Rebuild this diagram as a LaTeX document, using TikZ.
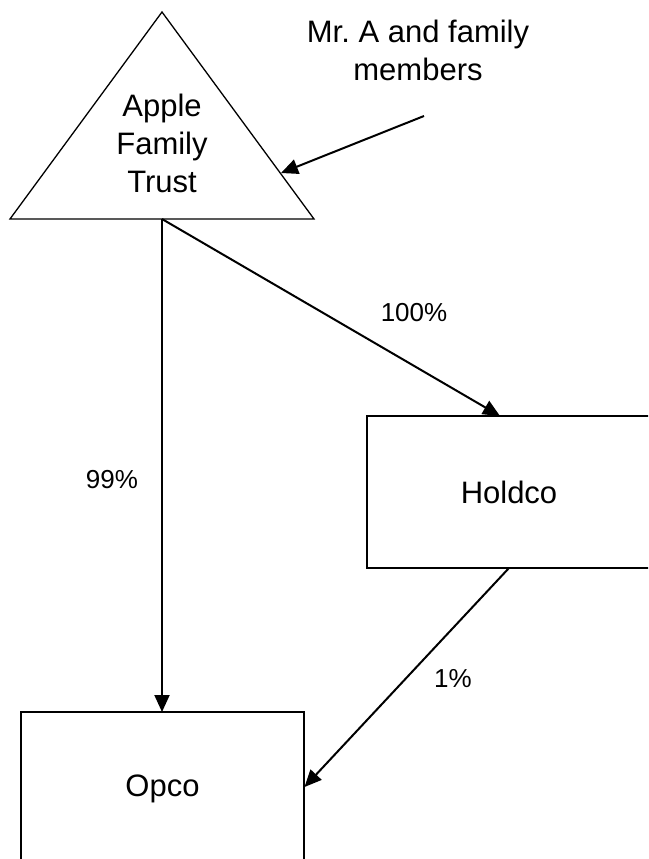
\documentclass[tikz,border=0pt]{standalone}
\usepackage{fontspec}
\setmainfont{Liberation Sans}
\usetikzlibrary{arrows.meta}
\begin{document}
\begin{tikzpicture}[x=1pt,y=-1pt,
  box/.style={draw, line width=1.5pt, inner sep=0pt, outer sep=0pt},
  big/.style={font=\fontsize{31}{38}\selectfont, align=center, inner sep=0pt},
  lbl/.style={font=\fontsize{26}{31}\selectfont, inner sep=0pt},
  conn/.style={line width=2pt, -{Triangle[length=17pt,width=15pt]}}]
\useasboundingbox (0,0) rectangle (648,859);
\clip (0,0) rectangle (648,859);
% triangle (trust)
\coordinate (apex) at (162,12);
\coordinate (bl) at (10,219);
\coordinate (br) at (314,219);
\coordinate (trustbase) at (162,219);
\coordinate (trustside) at (281,173);
\draw[line width=1.3pt, line join=miter] (apex) -- (bl) -- (br) -- cycle;
\node[big] (trust) at (162,143) {Apple\\Family\\Trust};
% Mr. A
\node[big] (mra) at (418,50) {Mr.\ A and family\\members};
\coordinate (mrstart) at (424,116);
% boxes
\node[box, minimum width=284pt, minimum height=152pt, font=\fontsize{31}{38}\selectfont] (holdco) at (509,492) {Holdco};
\node[box, minimum width=283pt, minimum height=154pt, font=\fontsize{31}{38}\selectfont] (opco) at (162.5,789) {Opco};
\coordinate (holdtop) at (500,416);
\coordinate (holdbot) at (509,568);
\coordinate (opcotop) at (162,712);
\coordinate (opcoside) at (304.5,787);
% connectors
\draw[conn] (mrstart) -- (trustside);
\draw[conn] (trustbase) -- (holdtop);
\draw[conn] (trustbase) -- (opcotop);
\draw[conn] (holdbot) -- (opcoside);
% labels
\node[lbl] (l100) at (414,313) {100\%};
\node[lbl] (l99) at (112,480) {99\%};
\node[lbl] (l1) at (453,679) {1\%};
\end{tikzpicture}
\end{document}
